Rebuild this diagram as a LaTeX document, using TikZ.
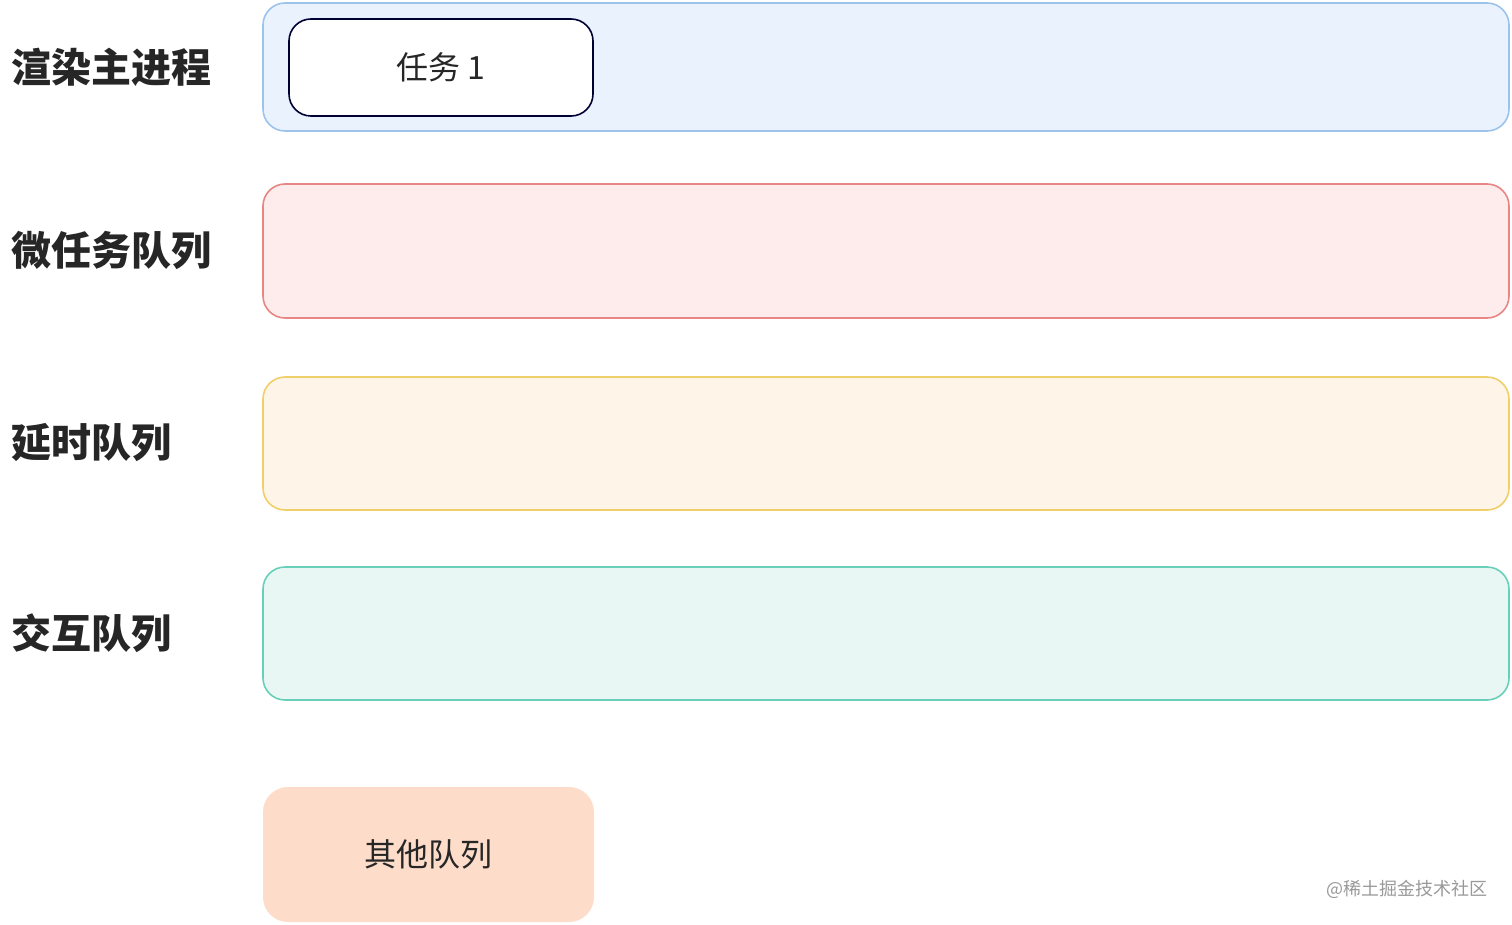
\documentclass[tikz,border=0pt]{standalone}
\usepackage{fontspec}
\setmainfont{Noto Sans CJK SC}
\begin{document}
\begin{tikzpicture}[x=1pt,y=-1pt,
  lane/.style={draw, line width=1.6pt, rounded corners=22pt},
  lbl/.style={anchor=west, inner sep=0pt, font=\fontsize{40}{42}\selectfont\bfseries, text=black!85},
  task/.style={draw=black!80!blue, line width=1.6pt, fill=white, rounded corners=22pt, font=\fontsize{32}{34}\selectfont, text=black!85},
  ]
\definecolor{blueF}{HTML}{EAF2FE}\definecolor{blueD}{HTML}{9CC3EC}
\definecolor{redF}{HTML}{FEECEC}\definecolor{redD}{HTML}{E88585}
\definecolor{yelF}{HTML}{FEF5E8}\definecolor{yelD}{HTML}{F0CF68}
\definecolor{grnF}{HTML}{E8F7F3}\definecolor{grnD}{HTML}{68D0B8}
\definecolor{orgF}{HTML}{FDDCCA}
\useasboundingbox (0,0) rectangle (1512,925);
\draw[lane, fill=blueF, draw=blueD] (263,3) rectangle (1509,131);
\draw[lane, fill=redF, draw=redD] (263,184) rectangle (1509,318);
\draw[lane, fill=yelF, draw=yelD] (263,377) rectangle (1509,510);
\draw[lane, fill=grnF, draw=grnD] (263,567) rectangle (1509,700);
\node[lbl] (l1) at (11,67) {渲染主进程};
\node[lbl] (l2) at (11,250) {微任务队列};
\node[lbl] (l3) at (11,443) {延时队列};
\node[lbl] (l4) at (11,633) {交互队列};
\node[task, minimum width=304pt, minimum height=97pt] (t1) at (441,67.5) {任务 1};
\node[fill=orgF, rounded corners=25pt, minimum width=331pt, minimum height=135pt, font=\fontsize{32}{34}\selectfont, text=black!85] (other) at (428.5,854.5) {其他队列};
\node[anchor=west, inner sep=0pt, font=\fontsize{18}{20}\selectfont, text=black!40] (wm) at (1326,889) {@稀土掘金技术社区};
\end{tikzpicture}
\end{document}
